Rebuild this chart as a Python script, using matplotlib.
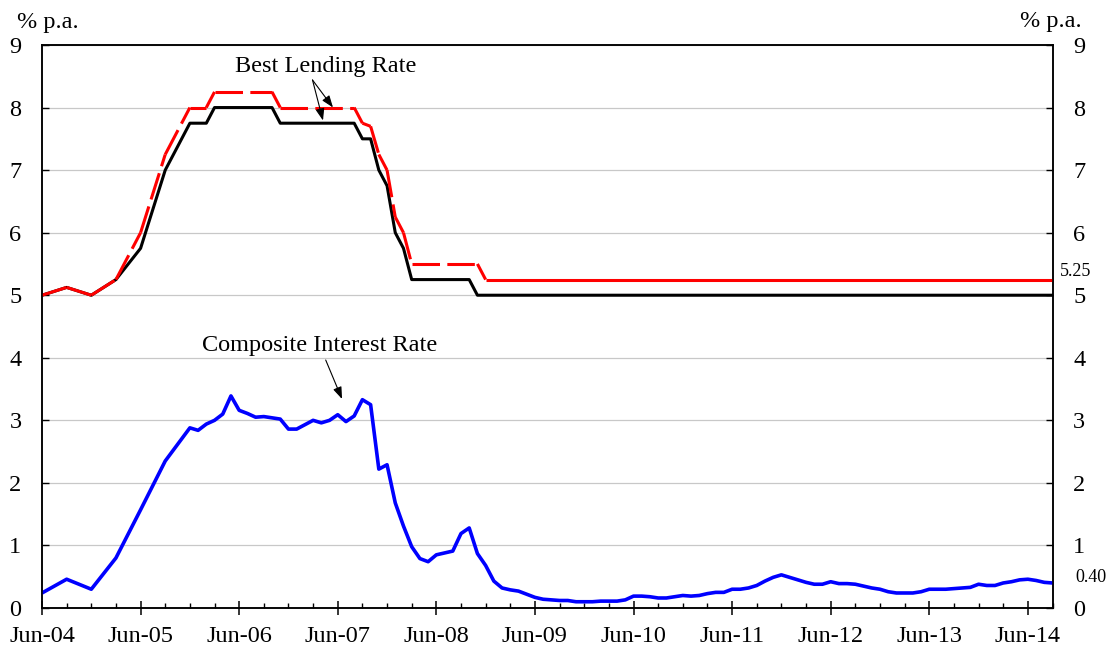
import matplotlib
matplotlib.use('Agg')
import matplotlib.pyplot as plt

plt.rcParams['font.family'] = ['Liberation Serif', 'DejaVu Serif']

# ---------------- data ----------------
# x positions are months counted from Jun-2004 (0) to Sep-2014 (123)
tick_months = [0, 12, 24, 36, 48, 60, 72, 84, 96, 108, 120]
tick_labels = ['Jun-04', 'Jun-05', 'Jun-06', 'Jun-07', 'Jun-08', 'Jun-09',
               'Jun-10', 'Jun-11', 'Jun-12', 'Jun-13', 'Jun-14']
minor_months = [m for m in range(0, 124, 3) if m % 12 != 0]
x_end = 123

# Best lending rate (lower, black) - turning points
blr_low_months = [0, 3, 6, 9, 12, 15, 18, 20, 21, 28, 29, 38, 39, 40, 41, 42,
                  43, 44, 45, 52, 53, 123]
blr_low_values = [5.0, 5.125, 5.0, 5.25, 5.75, 7.0, 7.75, 7.75, 8.0, 8.0, 7.75,
                  7.75, 7.5, 7.5, 7.0, 6.75, 6.0, 5.75, 5.25, 5.25, 5.0, 5.0]

# Best lending rate (upper, red dashed) - turning points
blr_high_months = [0, 3, 6, 9, 12, 15, 18, 20, 21, 28, 29, 38, 39, 40, 41, 42,
                   43, 44, 45, 53, 54, 123]
blr_high_values = [5.0, 5.125, 5.0, 5.25, 6.0, 7.25, 8.0, 8.0, 8.25, 8.25, 8.0,
                   8.0, 7.75, 7.7, 7.25, 7.0, 6.25, 6.0, 5.5, 5.5, 5.25, 5.25]
# from this month on the upper rate is monthly and its dashes merge into a solid line
blr_high_solid_from = 54

# Composite interest rate (blue)
cir_months = [0, 3, 6, 9, 12, 15] + list(range(18, 124))
cir_values = [0.24, 0.46, 0.30, 0.80, 1.57, 2.35,
              2.88, 2.84, 2.94, 3.00, 3.10, 3.39, 3.16, 3.11, 3.05, 3.06,
              3.04, 3.02, 2.86, 2.86, 2.93, 3.00, 2.96, 3.00, 3.09, 2.98,
              3.07, 3.33, 3.25, 2.22, 2.29, 1.68, 1.31, 0.98, 0.79, 0.74,
              0.85, 0.88, 0.91, 1.19, 1.28, 0.87, 0.68, 0.43, 0.32, 0.29,
              0.27, 0.22, 0.17, 0.14, 0.13, 0.12, 0.12, 0.10, 0.10, 0.10,
              0.11, 0.11, 0.11, 0.13, 0.19, 0.19, 0.18, 0.16, 0.16, 0.18,
              0.20, 0.19, 0.20, 0.23, 0.25, 0.25, 0.30, 0.30, 0.32, 0.36,
              0.43, 0.49, 0.53, 0.49, 0.45, 0.41, 0.38, 0.38, 0.42, 0.39,
              0.39, 0.38, 0.35, 0.32, 0.30, 0.26, 0.24, 0.24, 0.24, 0.26,
              0.30, 0.30, 0.30, 0.31, 0.32, 0.33, 0.38, 0.36, 0.36, 0.40,
              0.42, 0.45, 0.46, 0.44, 0.41, 0.40]
assert len(cir_months) == len(cir_values)

y_ticks = list(range(0, 10))
last_high_label = '5.25'
last_cir_label = '0.40'

# ---------------- figure ----------------
W, H = 1112, 650
fig = plt.figure(figsize=(W / 100, H / 100), dpi=100)
L, R, T, B = 42, 1052.5, 45, 608
ax = fig.add_axes([L / W, 1 - B / H, (R - L) / W, (B - T) / H])
ax.set_xlim(0, x_end)
ax.set_ylim(0, 9)

ax.yaxis.grid(True, color='#c8c8c8', lw=0.9)
ax.set_axisbelow(True)

ax.plot(blr_low_months, blr_low_values, color='black', lw=2.2, zorder=3)

# red dashed: each segment restarts its dash pattern (as in the source chart)
for i in range(len(blr_high_months) - 1):
    x0, x1 = blr_high_months[i], blr_high_months[i + 1]
    y0, y1 = blr_high_values[i], blr_high_values[i + 1]
    ls = '-' if x0 >= blr_high_solid_from else (0, (9, 2.4))
    ax.plot([x0, x1], [y0, y1], color='#ff0000', lw=2.2, linestyle=ls,
            zorder=4, solid_capstyle='butt')

ax.plot(cir_months, cir_values, color='#0000ff', lw=2.6, zorder=3)

fs = 17.5
ax.set_yticks(y_ticks)
ax.tick_params(axis='y', direction='in', length=5, width=1, pad=14.8,
               labelsize=fs, colors='black')
ax.set_xticks(tick_months, tick_labels)
ax.set_xticks(minor_months, minor=True)
ax.tick_params(axis='x', which='major', direction='inout', length=10,
               width=1.1, pad=8, labelsize=fs)
ax.tick_params(axis='x', which='minor', direction='in', length=3.6, width=1)

for s in ax.spines.values():
    s.set_linewidth(1.1)
    s.set_color('black')

ax2 = ax.twinx()
ax2.set_ylim(0, 9)
ax2.set_yticks(y_ticks)
ax2.tick_params(axis='y', direction='in', length=5, width=1, pad=14.8,
                labelsize=fs)
for s in ax2.spines.values():
    s.set_linewidth(1.1)

def px2data(px, py):
    return ((px - L) / (R - L) * x_end, (B - py) / (B - T) * 9)

arrow = dict(arrowstyle='-|>,head_length=0.6,head_width=0.22', color='black',
             lw=0.8, shrinkA=0, shrinkB=0, mutation_scale=12)

ax.text(*px2data(326, 66.7), 'Best Lending Rate', ha='center', va='center',
        fontsize=fs, zorder=6)
ax.annotate('', xy=px2data(333, 107.5), xytext=px2data(312.5, 80),
            arrowprops=arrow, zorder=6)
ax.annotate('', xy=px2data(323, 120.5), xytext=px2data(312.5, 80),
            arrowprops=arrow, zorder=6)

ax.text(*px2data(319.6, 345), 'Composite Interest Rate', ha='center',
        va='center', fontsize=fs, zorder=6)
ax.annotate('', xy=px2data(342, 399), xytext=px2data(325.7, 360),
            arrowprops=arrow, zorder=6)

fig.text(47.9 / W, 1 - 22.7 / H, '% p.a.', ha='center', va='center', fontsize=fs)
fig.text(1050.8 / W, 1 - 22.0 / H, '% p.a.', ha='center', va='center', fontsize=fs)
fig.text(1076 / W, 1 - 271.7 / H, last_high_label, ha='center', va='center',
         fontsize=13)
fig.text(1091 / W, 1 - 578 / H, last_cir_label, ha='center', va='center',
         fontsize=13)

fig.savefig('out.png', dpi=100)
